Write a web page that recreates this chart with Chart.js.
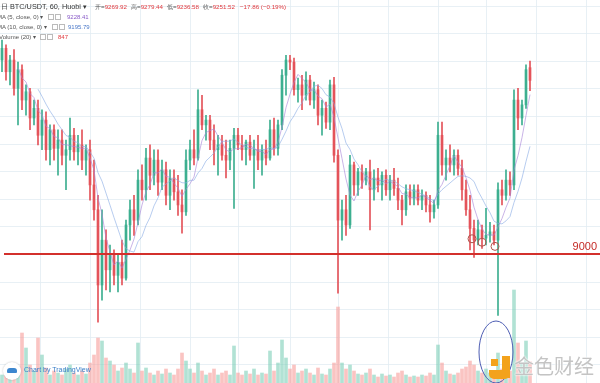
<!DOCTYPE html>
<html>
<head>
<meta charset="utf-8">
<script src="https://cdn.jsdelivr.net/npm/chart.js@4"></script>
<style>
body{margin:0;background:#fff;}
#wrap{position:relative;width:600px;height:383px;overflow:hidden;font-family:"Liberation Sans",Arial,sans-serif;}
#wrap canvas{position:absolute;left:0;top:0;}
.t{position:absolute;white-space:nowrap;line-height:1;}
.h1{font-size:7.3px;color:#333;top:3px;}
.hv{font-size:6.2px;color:#555;top:4px;}
.h2{font-size:6px;color:#555;}
.red{color:#e0393e;}
.box{position:absolute;width:4px;height:4px;border:1px solid #bbb;}
#tv{position:absolute;left:3px;top:362px;width:18px;height:18px;border-radius:50%;background:#fff;box-shadow:0 0 2px rgba(0,0,0,.25);}
#tv:after{content:"";position:absolute;left:4px;top:6px;width:10px;height:5px;border-radius:3px 3px 1px 1px;background:#3c87cf;}
.or{position:absolute;background:#f3a21c;}
#wm{position:absolute;left:514px;top:356px;font-size:20px;font-family:"Noto Sans CJK SC",sans-serif;color:#c4c4c4;text-shadow:0 0 2px #fff,0 0 2px #fff;line-height:1;}
</style>
</head>
<body>
<div id="wrap">
<canvas id="chart" width="600" height="383"></canvas>
<div class="t h1" style="left:1px;">日</div>
<div class="t h1" style="left:10px;">BTC/USDT, 60, Huobi ▾</div>
<div class="t hv" style="left:95px;">开=<span class="red">9269.92</span></div>
<div class="t hv" style="left:131px;">高=<span class="red">9279.44</span></div>
<div class="t hv" style="left:167px;">低=<span class="red">9236.58</span></div>
<div class="t hv" style="left:203px;">收=<span class="red">9251.52</span></div>
<div class="t hv red" style="left:240px;">−17.86 (−0.19%)</div>
<div class="t h2" style="left:-3px;top:14px;">MA (5, close, 0) ▾</div>
<span class="box" style="left:48px;top:14px;"></span><span class="box" style="left:55px;top:14px;"></span>
<div class="t h2" style="left:67px;top:14px;color:#8a5cc8;">9228.41</div>
<div class="t h2" style="left:-3px;top:24px;">MA (10, close, 0) ▾</div>
<span class="box" style="left:52px;top:24px;"></span><span class="box" style="left:59px;top:24px;"></span>
<div class="t h2" style="left:68px;top:24px;color:#4a78c8;">9195.79</div>
<div class="t h2" style="left:-1px;top:34px;">Volume (20) ▾</div>
<span class="box" style="left:40px;top:34px;"></span><span class="box" style="left:47px;top:34px;"></span>
<div class="t h2" style="left:58px;top:34px;color:#e0393e;">847</div>
<div id="tv"></div>
<div class="t" style="left:24px;top:366px;font-size:7px;color:#3a7fc8;">Chart by TradingView</div>
<div class="or" style="left:491px;top:359px;width:7px;height:7px;"></div>
<div class="or" style="left:502px;top:356px;width:8px;height:22px;"></div>
<div class="or" style="left:489px;top:370px;width:21px;height:9px;border-radius:0 0 5px 5px;"></div>
<div id="wm">金色财经</div>
</div>
<script>
// BTC/USDT 60 min, Huobi
const opens = [9281,9298,9264,9281,9240,9267,9223,9235,9197,9211,
    9172,9194,9151,9180,9153,9165,9143,9151,9172,9148,
    9158,9136,9151,9100,9064,8955,9020,8977,8998,8969,
    8988,8965,9042,9064,9049,9107,9093,9139,9114,9136,
    9104,9122,9085,9110,9090,9071,9061,9136,9151,9139,
    9209,9187,9194,9165,9151,9158,9143,9136,9153,9172,
    9158,9151,9162,9143,9151,9136,9151,9139,9180,9153,
    9187,9259,9281,9278,9238,9245,9230,9252,9223,9238,
    9201,9211,9191,9245,9143,9049,9064,9042,9129,9100,
    9119,9107,9119,9093,9110,9100,9114,9093,9107,9095,
    9078,9064,9090,9081,9093,9078,9085,9071,9061,9071,
    9172,9129,9139,9129,9143,9124,9093,9064,9037,9020,
    9035,9023,9027,9032,9020,9093,9085,9107,9100,9223,
    9197,9216,9269.92];
const highs = [9310,9303,9288,9296,9278,9274,9245,9240,9223,9223,
    9209,9206,9187,9187,9180,9180,9165,9197,9182,9172,
    9180,9158,9165,9136,9085,9064,9035,9013,9006,8998,
    9020,9049,9078,9085,9122,9129,9153,9158,9151,9151,
    9136,9133,9122,9122,9114,9093,9151,9165,9180,9238,
    9230,9201,9201,9187,9172,9172,9165,9165,9182,9182,
    9172,9165,9172,9165,9172,9158,9165,9194,9197,9194,
    9267,9288,9288,9284,9255,9259,9264,9259,9249,9245,
    9223,9220,9252,9256,9151,9078,9085,9143,9133,9124,
    9129,9124,9136,9122,9124,9119,9122,9114,9124,9110,
    9085,9100,9100,9100,9100,9093,9090,9085,9078,9191,
    9191,9151,9158,9151,9151,9136,9107,9085,9049,9049,
    9042,9066,9046,9042,9103,9107,9122,9119,9238,9240,
    9223,9274,9279.44];
const lows = [9264,9252,9245,9230,9187,9209,9201,9180,9187,9158,
    9151,9136,9129,9136,9114,9129,9093,9136,9136,9129,
    9122,9114,9078,9049,8901,8933,8948,8945,8955,8945,
    8955,8962,9020,9027,9042,9078,9078,9093,9100,9085,
    9093,9071,9064,9078,9056,9030,9056,9122,9129,9136,
    9180,9165,9151,9129,9114,9136,9110,9122,9066,9151,
    9136,9129,9136,9095,9122,9114,9129,9136,9143,9143,
    9180,9230,9267,9230,9220,9209,9223,9216,9211,9187,
    9172,9182,9180,9133,8943,9020,9027,9037,9085,9085,
    9095,9100,9035,9078,9090,9078,9085,9078,9085,9064,
    9042,9056,9071,9071,9071,9064,9061,9046,9052,9066,
    9114,9107,9119,9114,9114,9078,9056,9006,8995,9013,
    9008,9013,9017,9013,8911,9071,9078,9085,9093,9180,
    9187,9211,9236.58];
const closes = [9298,9264,9281,9240,9267,9223,9235,9197,9211,9172,
    9194,9151,9180,9153,9165,9143,9151,9172,9148,9158,
    9136,9151,9100,9064,8955,9020,8977,8998,8969,8988,
    8965,9042,9064,9049,9107,9093,9139,9114,9136,9104,
    9122,9085,9110,9090,9071,9061,9136,9151,9139,9209,
    9187,9194,9165,9151,9158,9143,9136,9153,9172,9158,
    9151,9162,9143,9151,9136,9151,9139,9180,9153,9187,
    9259,9281,9278,9238,9245,9230,9252,9223,9238,9201,
    9211,9191,9245,9143,9049,9064,9042,9129,9100,9119,
    9107,9119,9093,9110,9100,9114,9093,9107,9095,9078,
    9064,9090,9081,9093,9078,9085,9071,9061,9071,9172,
    9129,9139,9129,9143,9124,9093,9064,9037,9020,9035,
    9023,9027,9032,9020,9093,9085,9107,9100,9223,9197,
    9216,9267,9251.52];
const volumes = [320,480,240,400,600,2000,1400,720,480,1800,
    1120,600,320,480,400,320,560,720,400,320,
    480,360,800,1120,1800,1680,1000,880,720,480,
    600,800,560,400,1600,480,600,400,320,480,
    360,560,400,320,560,1200,880,560,400,800,
    480,320,400,560,320,400,480,320,1480,400,
    320,480,360,560,320,400,360,1280,480,800,
    1720,1000,560,720,400,480,560,400,320,600,
    360,320,560,800,3040,800,560,720,480,360,
    320,400,560,320,240,360,280,320,240,400,
    480,320,240,280,240,320,280,400,320,1520,
    800,480,360,320,400,560,640,880,720,480,
    400,560,400,480,1200,560,720,480,3720,1600,
    800,1680,847];

const slots = 150;              // hourly slots across the pane (right side left empty)
const priceMin = 8813, priceMax = 9368;
const volMax = 15320;
const levelPrice = 9000;
const gridPrices = [8840,8880,8920,8960,9040,9080,9120,9160,9200,9240,9280,9320,9360];
const gridSlots = [9.5,22,34.5,47,59,72,84,96.5,109,121,133.5,146];
const circleMarks = [[117.5, 9022], [120, 9017], [123.25, 9011]];

const upColor = "#3daf90", downColor = "#e4535a";
const upVol = "rgba(125,207,184,0.6)", downVol = "rgba(246,156,154,0.6)";

const labels = Array.from({length: slots}, (_, i) => String(i));
const isUp = closes.map((c, i) => c >= opens[i]);

function movingAvg(arr, n) {
    return arr.map((v, i) => {
        if (i < n - 1) return null;
        let s = 0;
        for (let k = i - n + 1; k <= i; k++) s += arr[k];
        return s / n;
    });
}

const overlay = {
    id: "overlay",
    beforeDatasetsDraw(chart) {
        const {ctx, scales: {x, y}} = chart;
        ctx.save();
        ctx.strokeStyle = "rgba(226,236,243,0.8)";
        ctx.lineWidth = 1;
        gridPrices.forEach((p) => {
            const py = Math.round(y.getPixelForValue(p)) + 0.5;
            ctx.beginPath(); ctx.moveTo(0, py); ctx.lineTo(600, py); ctx.stroke();
        });
        gridSlots.forEach((s) => {
            const px = Math.round(x.getPixelForValue(s)) + 0.5;
            ctx.beginPath(); ctx.moveTo(px, 0); ctx.lineTo(px, 383); ctx.stroke();
        });
        ctx.restore();
    },
    afterDatasetsDraw(chart) {
        const {ctx, scales: {x, y, v}} = chart;
        ctx.save();
        const py = y.getPixelForValue(levelPrice);
        ctx.strokeStyle = "#d3302c";
        ctx.lineWidth = 2;
        ctx.beginPath(); ctx.moveTo(4, py); ctx.lineTo(600, py); ctx.stroke();
        ctx.fillStyle = "#c42a26";
        ctx.font = "11px 'Liberation Sans', Arial";
        ctx.textAlign = "right";
        ctx.textBaseline = "bottom";
        ctx.fillText(String(levelPrice), 597, py - 1);

        ctx.strokeStyle = "#b0524a";
        ctx.lineWidth = 1;
        circleMarks.forEach(([s, p]) => {
            ctx.beginPath();
            ctx.arc(x.getPixelForValue(s), y.getPixelForValue(p), 4, 0, Math.PI * 2);
            ctx.stroke();
        });

        ctx.strokeStyle = "#4d5db3";
        ctx.beginPath();
        ctx.ellipse(x.getPixelForValue(123.5), v.getPixelForValue(1240), 17, 31, 0, 0, Math.PI * 2);
        ctx.stroke();
        ctx.restore();
    },
};

new Chart(document.getElementById("chart"), {
    data: {
        labels: labels,
        datasets: [
            {
                type: "line",
                label: "MA5",
                data: movingAvg(closes, 5),
                borderColor: "rgba(165,130,215,0.6)",
                borderWidth: 1,
                pointRadius: 0,
                yAxisID: "y",
                order: 1,
            },
            {
                type: "line",
                label: "MA10",
                data: movingAvg(closes, 10),
                borderColor: "rgba(135,170,228,0.6)",
                borderWidth: 1,
                pointRadius: 0,
                yAxisID: "y",
                order: 1,
            },
            {
                type: "bar",
                label: "body",
                data: opens.map((o, i) => [o, closes[i]]),
                backgroundColor: isUp.map((u) => (u ? upColor : downColor)),
                barThickness: 2,
                minBarLength: 1,
                grouped: false,
                yAxisID: "y",
                order: 2,
            },
            {
                type: "bar",
                label: "wick",
                data: lows.map((l, i) => [l, highs[i]]),
                backgroundColor: isUp.map((u) => (u ? upColor : downColor)),
                barThickness: 1,
                grouped: false,
                yAxisID: "y",
                order: 3,
            },
            {
                type: "bar",
                label: "Volume",
                data: volumes,
                backgroundColor: isUp.map((u) => (u ? upVol : downVol)),
                barThickness: 3,
                grouped: false,
                yAxisID: "v",
                order: 10,
            },
        ],
    },
    options: {
        responsive: false,
        animation: false,
        layout: { padding: 0 },
        plugins: {
            legend: { display: false },
            tooltip: { enabled: false },
        },
        scales: {
            x: { type: "category", offset: true, display: false },
            y: { min: priceMin, max: priceMax, display: false },
            v: { min: 0, max: volMax, display: false },
        },
    },
    plugins: [overlay],
});
</script>
</body>
</html>
